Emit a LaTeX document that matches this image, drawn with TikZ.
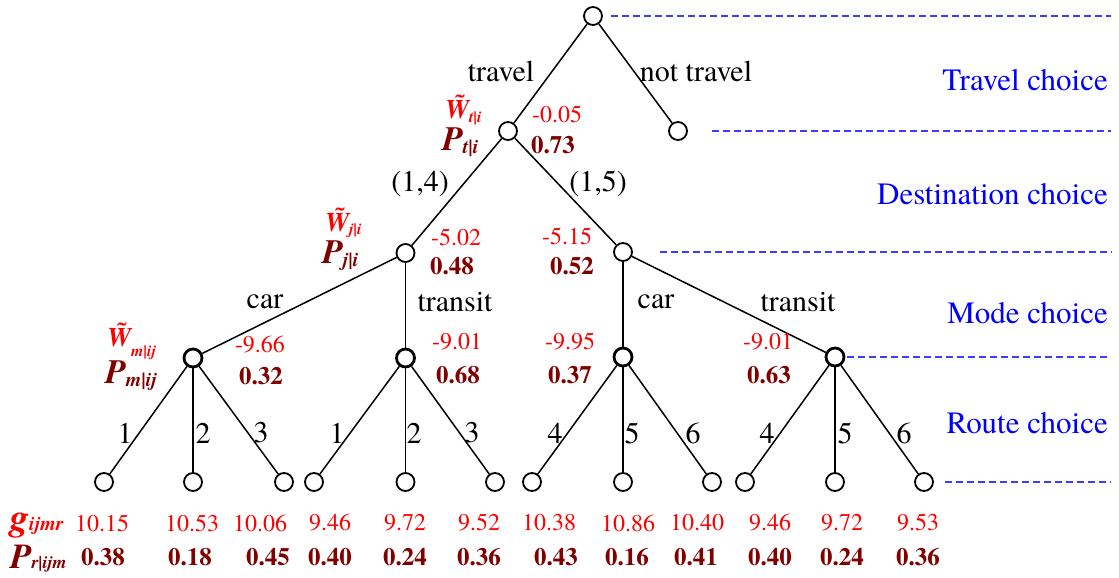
\documentclass[tikz,border=0pt]{standalone}
\usepackage{fontspec}
\setmainfont{texgyretermes}[Extension=.otf, UprightFont=*-regular, BoldFont=*-bold, ItalicFont=*-italic, BoldItalicFont=*-bolditalic]
\definecolor{wred}{RGB}{255,0,0}
\definecolor{pred}{RGB}{128,0,0}
\definecolor{lblue}{RGB}{0,0,255}
\definecolor{dblue}{RGB}{60,60,255}
\newcommand{\fs}[1]{\fontsize{#1}{#1}\selectfont}
\newcommand{\tildeW}{\accent"02DC W}
\newcommand{\Wlab}[2]{{\fs{27}\bfseries\itshape \tildeW}\raisebox{-#2pt}{\fs{16}\bfseries\itshape #1}}
\newcommand{\Plab}[2]{{\fs{34}\bfseries\itshape P}\raisebox{-#2pt}{\fs{20}\bfseries\itshape #1}}
\tikzset{
  nd/.style={circle,draw,line width=1.8pt,minimum size=18pt,inner sep=0pt},
  ndm/.style={nd,line width=2.8pt},
  link/.style={line width=1.5pt},
  lab/.style={font=\fs{30},inner sep=0pt},
  rv/.style={text=wred,font=\fs{24},inner sep=0pt},
  pv/.style={text=pred,font=\fs{25}\bfseries,inner sep=0pt},
  ch/.style={text=lblue,font=\fs{31},anchor=east,inner sep=0pt},
  guide/.style={dblue,line width=1.1pt,dash pattern=on 7pt off 4pt},
  wl/.style={text=wred,anchor=base west,inner sep=0pt},
  pl/.style={text=pred,anchor=base west,inner sep=0pt}
}
\begin{document}
\begin{tikzpicture}[x=1pt,y=-1pt]
\useasboundingbox (0,0) rectangle (1119,578);
% nodes
\node[nd] (root) at (593,16) {};
\node[nd] (t) at (508,131) {};
\node[nd] (nt) at (678,131) {};
\node[nd] (d1) at (405.5,253) {};
\node[nd] (d2) at (623,252) {};
\node[ndm] (m1) at (193,358) {};
\node[ndm] (m2) at (405.5,358) {};
\node[ndm] (m3) at (623,357) {};
\node[ndm] (m4) at (835,357) {};
\foreach \n/\x in {1/104,2/193,3/284,4/314,5/405.5,6/495,7/532,8/623,9/712,10/745,11/835,12/924}
  \node[nd] (r\n) at (\x,482) {};
% connectors
\draw[link] (root) -- (t);
\draw[link] (root) -- (nt);
\draw[link] (t) -- (d1);
\draw[link] (t) -- (d2);
\draw[link] (d1) -- (m1);
\draw[link] (d1) -- (m2);
\draw[link] (d2) -- (m3);
\draw[link] (d2) -- (m4);
\draw[link] (m1) -- (r1); \draw[link] (m1) -- (r2); \draw[link] (m1) -- (r3);
\draw[link] (m2) -- (r4); \draw[link] (m2) -- (r5); \draw[link] (m2) -- (r6);
\draw[link] (m3) -- (r7); \draw[link] (m3) -- (r8); \draw[link] (m3) -- (r9);
\draw[link] (m4) -- (r10); \draw[link] (m4) -- (r11); \draw[link] (m4) -- (r12);
% guide lines
\coordinate (e1) at (1111,16);
\coordinate (e2) at (1111,131);
\coordinate (e3) at (1111,252);
\coordinate (e4) at (1111,357);
\coordinate (e5) at (1111,482);
\draw[guide] ([xshift=8pt]root.east) -- (e1);
\draw[guide] ([xshift=24pt]nt.east) -- (e2);
\draw[guide] ([xshift=27pt]d2.east) -- (e3);
\draw[guide] ([xshift=2pt]m4.east) -- (e4);
\draw[guide] ([xshift=11pt]r12.east) -- (e5);
% level labels
\node[ch] (c1) at (1108,80) {Travel choice};
\node[ch] (c2) at (1108,194) {Destination choice};
\node[ch] (c3) at (1108,313) {Mode choice};
\node[ch] (c4) at (1108,423) {Route choice};
% edge labels
\node[lab] (lt) at (501,71) {travel};
\node[lab] (lnt) at (696,71) {not travel};
\node[lab] (l14) at (420,184) {(1,4)};
\node[lab] (l15) at (598,184) {(1,5)};
\node[lab] (lc1) at (265,302) {car};
\node[lab] (ltr1) at (455,302) {transit};
\node[lab] (lc2) at (656,302) {car};
\node[lab] (ltr2) at (798,302) {transit};
\foreach \n/\x/\t in {1/125/1,2/203/2,3/261/3,4/337/1,5/414/2,6/472/3,7/555/4,8/632/5,9/693/6,10/767/4,11/845/5,12/904/6}
  \node[lab] (rn\n) at (\x,433) {\t};
% utility and probability labels
\node[wl] (wt) at (445,118) {\Wlab{t|i}{4}};
\node[pl] (pt) at (442,150) {\Plab{t|i}{3}};
\node[rv] (vt) at (557,114) {-0.05};
\node[pv] (qt) at (553,145) {0.73};
\node[wl] (wj) at (325,231) {\Wlab{j|i}{3}};
\node[pl] (pj) at (322,263) {\Plab{j|i}{3}};
\node[rv] (vd1) at (456,237) {-5.02};
\node[pv] (qd1) at (452,266) {0.48};
\node[rv] (vd2) at (567,236) {-5.15};
\node[pv] (qd2) at (572,266) {0.52};
\node[wl] (wm) at (107,346) {\Wlab{m|ij}{10}};
\node[pl] (pm) at (105,383) {\Plab{m|ij}{3}};
\node[rv] (vm1) at (260,345) {-9.66};
\node[pv] (qm1) at (261,376) {0.32};
\node[rv] (vm2) at (457,342) {-9.01};
\node[pv] (qm2) at (458,375) {0.68};
\node[rv] (vm3) at (570,342) {-9.95};
\node[pv] (qm3) at (570,375) {0.37};
\node[rv] (vm4) at (768,342) {-9.01};
\node[pv] (qm4) at (769,375) {0.63};
% bottom rows
\node[anchor=base west,inner sep=0pt,text=wred] (glab) at (10,530) {{\fs{38}\bfseries\itshape g}{\fs{20}\bfseries\itshape ijmr}};
\node[anchor=base west,inner sep=0pt,text=pred] (plab) at (10,568) {{\fs{35}\bfseries\itshape P}{\fs{18}\bfseries\itshape r|ijm}};
\foreach \n/\x/\v in {1/102/10.15,2/192/10.53,3/260/10.06,4/330/9.46,5/405/9.72,6/479/9.52,7/549/10.38,8/628/10.86,9/697/10.40,10/770/9.46,11/842/9.72,12/918/9.53}
  \node[rv] (g\n) at (\x,523) {\v};
\foreach \n/\x/\v in {1/103/0.38,2/190/0.18,3/268/0.45,4/330/0.40,5/405/0.24,6/479/0.36,7/556/0.43,8/627/0.16,9/696/0.41,10/770/0.40,11/842/0.24,12/918/0.36}
  \node[pv] (p\n) at (\x,557) {\v};
\end{tikzpicture}
\end{document}
